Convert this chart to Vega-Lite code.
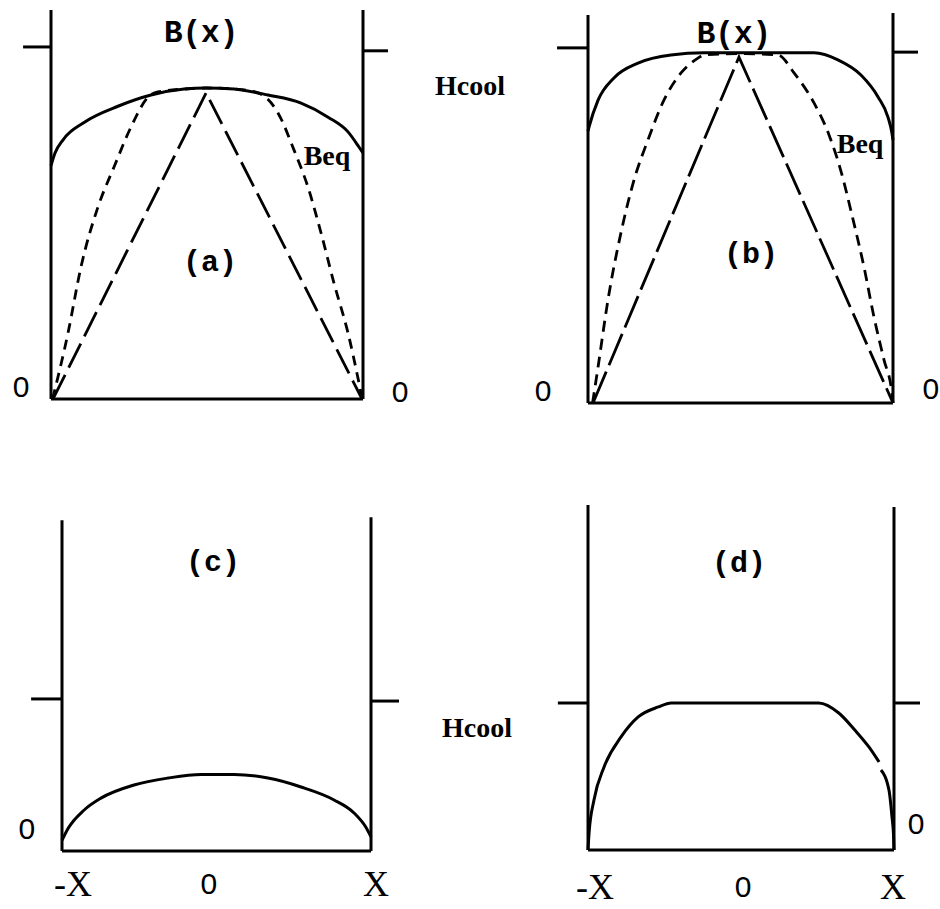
{
  "$schema": "https://vega.github.io/schema/vega-lite/v6.json",
  "background": "white",
  "padding": {"left": 12, "top": 5, "right": 0, "bottom": 0},
  "autosize": {"type": "pad"},
  "bounds": "flush",
  "align": "each",
  "columns": 2,
  "spacing": {"row": 95, "column": 210},
  "config": {
    "view": {"stroke": null, "fill": "white"},
    "line": {"color": "#000"},
    "rule": {"color": "#000"},
    "text": {"color": "#000"}
  },
  "datasets": {
    "a_frame": [
      {"x": -1, "y": 0, "x2": -1, "y2": 1.108},
      {"x": 1, "y": 0, "x2": 1, "y2": 1.108},
      {"x": -1, "y": 0, "x2": 1, "y2": 0},
      {"x": -1.179, "y": 1.003, "x2": -1, "y2": 1.003},
      {"x": 1, "y": 0.992, "x2": 1.16, "y2": 0.992}
    ],
    "b_frame": [
      {"x": -1, "y": 0, "x2": -1, "y2": 1.099},
      {"x": 1, "y": 0, "x2": 1, "y2": 1.105},
      {"x": -1, "y": 0, "x2": 1, "y2": 0},
      {"x": -1.203, "y": 1.006, "x2": -1, "y2": 1.006},
      {"x": 1, "y": 0.994, "x2": 1.164, "y2": 0.994}
    ],
    "c_frame": [
      {"x": -1, "y": 0, "x2": -1, "y2": 2.19},
      {"x": 1, "y": 0, "x2": 1, "y2": 2.21},
      {"x": -1, "y": 0, "x2": 1, "y2": 0},
      {"x": -1.2, "y": 1.007, "x2": -1, "y2": 1.007},
      {"x": 1, "y": 0.993, "x2": 1.181, "y2": 0.993}
    ],
    "d_frame": [
      {"x": -1, "y": 0, "x2": -1, "y2": 2.347},
      {"x": 1, "y": 0, "x2": 1, "y2": 2.333},
      {"x": -1, "y": 0, "x2": 1, "y2": 0},
      {"x": -1.197, "y": 1, "x2": -1, "y2": 1},
      {"x": 1, "y": 1, "x2": 1.17, "y2": 1}
    ],
    "a_curves": [
      {"s": "B", "x": -1, "y": 0.665},
      {"s": "B", "x": -0.975, "y": 0.7},
      {"s": "B", "x": -0.92, "y": 0.74},
      {"s": "B", "x": -0.788, "y": 0.788},
      {"s": "B", "x": -0.571, "y": 0.834},
      {"s": "B", "x": -0.359, "y": 0.866},
      {"s": "B", "x": -0.147, "y": 0.883},
      {"s": "B", "x": -0.006, "y": 0.886},
      {"s": "B", "x": 0.173, "y": 0.883},
      {"s": "B", "x": 0.391, "y": 0.866},
      {"s": "B", "x": 0.603, "y": 0.843},
      {"s": "B", "x": 0.776, "y": 0.803},
      {"s": "B", "x": 0.904, "y": 0.761},
      {"s": "B", "x": 0.974, "y": 0.718},
      {"s": "B", "x": 1, "y": 0.701},
      {"s": "Beq", "x": -0.99, "y": 0},
      {"s": "Beq", "x": -0.891, "y": 0.188},
      {"s": "Beq", "x": -0.808, "y": 0.376},
      {"s": "Beq", "x": -0.699, "y": 0.547},
      {"s": "Beq", "x": -0.596, "y": 0.661},
      {"s": "Beq", "x": -0.487, "y": 0.775},
      {"s": "Beq", "x": -0.378, "y": 0.86},
      {"s": "Beq", "x": -0.314, "y": 0.875},
      {"s": "Beq", "x": -0.147, "y": 0.883},
      {"s": "Beq", "x": 0, "y": 0.886},
      {"s": "Beq", "x": 0.173, "y": 0.883},
      {"s": "Beq", "x": 0.327, "y": 0.872},
      {"s": "Beq", "x": 0.455, "y": 0.815},
      {"s": "Beq", "x": 0.558, "y": 0.709},
      {"s": "Beq", "x": 0.647, "y": 0.604},
      {"s": "Beq", "x": 0.731, "y": 0.473},
      {"s": "Beq", "x": 0.814, "y": 0.33},
      {"s": "Beq", "x": 0.904, "y": 0.188},
      {"s": "Beq", "x": 0.974, "y": 0.046},
      {"s": "Beq", "x": 0.995, "y": 0},
      {"s": "tri", "x": -0.987, "y": 0},
      {"s": "tri", "x": -0.006, "y": 0.872},
      {"s": "tri", "x": 0.994, "y": 0}
    ],
    "b_curves": [
      {"s": "B", "x": -1, "y": 0.77},
      {"s": "B", "x": -0.993, "y": 0.782},
      {"s": "B", "x": -0.934, "y": 0.858},
      {"s": "B", "x": -0.83, "y": 0.921},
      {"s": "B", "x": -0.672, "y": 0.963},
      {"s": "B", "x": -0.456, "y": 0.986},
      {"s": "B", "x": -0.239, "y": 0.992},
      {"s": "B", "x": 0.482, "y": 0.992},
      {"s": "B", "x": 0.639, "y": 0.972},
      {"s": "B", "x": 0.79, "y": 0.929},
      {"s": "B", "x": 0.902, "y": 0.867},
      {"s": "B", "x": 0.967, "y": 0.81},
      {"s": "B", "x": 0.993, "y": 0.765},
      {"s": "B", "x": 1, "y": 0.745},
      {"s": "Beq", "x": -0.97, "y": 0},
      {"s": "Beq", "x": -0.934, "y": 0.102},
      {"s": "Beq", "x": -0.869, "y": 0.292},
      {"s": "Beq", "x": -0.784, "y": 0.482},
      {"s": "Beq", "x": -0.698, "y": 0.632},
      {"s": "Beq", "x": -0.607, "y": 0.745},
      {"s": "Beq", "x": -0.502, "y": 0.858},
      {"s": "Beq", "x": -0.39, "y": 0.935},
      {"s": "Beq", "x": -0.279, "y": 0.977},
      {"s": "Beq", "x": -0.239, "y": 0.986},
      {"s": "Beq", "x": 0, "y": 0.99},
      {"s": "Beq", "x": 0.246, "y": 0.986},
      {"s": "Beq", "x": 0.351, "y": 0.935},
      {"s": "Beq", "x": 0.482, "y": 0.85},
      {"s": "Beq", "x": 0.58, "y": 0.76},
      {"s": "Beq", "x": 0.66, "y": 0.655},
      {"s": "Beq", "x": 0.735, "y": 0.525},
      {"s": "Beq", "x": 0.81, "y": 0.385},
      {"s": "Beq", "x": 0.875, "y": 0.244},
      {"s": "Beq", "x": 0.941, "y": 0.122},
      {"s": "Beq", "x": 0.993, "y": 0.028},
      {"s": "Beq", "x": 1, "y": 0},
      {"s": "tri", "x": -0.967, "y": 0},
      {"s": "tri", "x": -0.01, "y": 0.98},
      {"s": "tri", "x": 1, "y": 0}
    ],
    "c_curves": [
      {"s": "B", "g": 1, "x": -1, "y": 0.07},
      {"s": "B", "g": 1, "x": -0.96, "y": 0.15},
      {"s": "B", "g": 1, "x": -0.858, "y": 0.27},
      {"s": "B", "g": 1, "x": -0.748, "y": 0.35},
      {"s": "B", "g": 1, "x": -0.534, "y": 0.437},
      {"s": "B", "g": 1, "x": -0.314, "y": 0.483},
      {"s": "B", "g": 1, "x": -0.1, "y": 0.507},
      {"s": "B", "g": 1, "x": 0.113, "y": 0.507},
      {"s": "B", "g": 1, "x": 0.333, "y": 0.483},
      {"s": "B", "g": 1, "x": 0.547, "y": 0.424},
      {"s": "B", "g": 1, "x": 0.761, "y": 0.338},
      {"s": "B", "g": 1, "x": 0.89, "y": 0.252},
      {"s": "B", "g": 1, "x": 0.965, "y": 0.16},
      {"s": "B", "g": 1, "x": 1, "y": 0.093}
    ],
    "d_curves": [
      {"s": "B", "g": 1, "x": -1, "y": 0},
      {"s": "B", "g": 1, "x": -0.993, "y": 0.116},
      {"s": "B", "g": 1, "x": -0.961, "y": 0.34},
      {"s": "B", "g": 1, "x": -0.895, "y": 0.565},
      {"s": "B", "g": 1, "x": -0.784, "y": 0.769},
      {"s": "B", "g": 1, "x": -0.672, "y": 0.905},
      {"s": "B", "g": 1, "x": -0.541, "y": 0.973},
      {"s": "B", "g": 1, "x": -0.456, "y": 1},
      {"s": "B", "g": 1, "x": 0.508, "y": 1},
      {"s": "B", "g": 1, "x": 0.639, "y": 0.932},
      {"s": "B", "g": 1, "x": 0.744, "y": 0.816},
      {"s": "B", "g": 1, "x": 0.836, "y": 0.701},
      {"s": "B", "g": 1, "x": 0.902, "y": 0.599},
      {"s": "B", "g": 2, "x": 0.915, "y": 0.544},
      {"s": "B", "g": 2, "x": 0.967, "y": 0.408},
      {"s": "B", "g": 2, "x": 0.987, "y": 0.224},
      {"s": "B", "g": 2, "x": 0.997, "y": 0.1},
      {"s": "B", "g": 2, "x": 1, "y": 0}
    ],
    "a_labels": [
      {"role": "title", "t": "B(x)", "x": -0.038, "y": 1.043},
      {"role": "name", "t": "Hcool", "x": 1.686, "y": 0.889},
      {"role": "name", "t": "Beq", "x": 0.769, "y": 0.689},
      {"role": "panel", "t": "(a)", "x": 0.019, "y": 0.39},
      {"role": "zero", "t": "0", "x": -1.192, "y": 0.031},
      {"role": "zero", "t": "0", "x": 1.237, "y": 0.017}
    ],
    "b_labels": [
      {"role": "title", "t": "B(x)", "x": -0.043, "y": 1.045},
      {"role": "name", "t": "Beq", "x": 0.784, "y": 0.731},
      {"role": "panel", "t": "(b)", "x": 0.069, "y": 0.422},
      {"role": "zero", "t": "0", "x": -1.295, "y": 0.031},
      {"role": "zero", "t": "0", "x": 1.249, "y": 0.037}
    ],
    "c_labels": [
      {"role": "panel", "t": "(c)", "x": -0.023, "y": 1.914},
      {"role": "zero", "t": "0", "x": -1.227, "y": 0.139},
      {"role": "xend", "t": "-X", "x": -0.929, "y": -0.225},
      {"role": "zero", "t": "0", "x": -0.049, "y": -0.225},
      {"role": "xend", "t": "X", "x": 1.032, "y": -0.225}
    ],
    "d_labels": [
      {"role": "panel", "t": "(d)", "x": -0.013, "y": 1.952},
      {"role": "name", "t": "Hcool", "x": -1.725, "y": 0.823},
      {"role": "zero", "t": "0", "x": 1.144, "y": 0.17},
      {"role": "xend", "t": "-X", "x": -0.954, "y": -0.259},
      {"role": "zero", "t": "0", "x": 0.013, "y": -0.259},
      {"role": "xend", "t": "X", "x": 0.993, "y": -0.259}
    ]
  },
  "concat": [
    {
      "width": 330, "height": 400,
      "encoding": {
        "x": {"field": "x", "type": "quantitative", "scale": {"domain": [-1.0321, 1.0833], "nice": false, "zero": false}, "axis": null},
        "y": {"field": "y", "type": "quantitative", "scale": {"domain": [-0.0171, 1.1225], "nice": false, "zero": false}, "axis": null}
      },
      "layer": [
        {"data": {"name": "a_frame"}, "mark": {"type": "rule", "strokeWidth": 3}, "encoding": {"x2": {"field": "x2"}, "y2": {"field": "y2"}}},
        {"data": {"name": "a_curves"}, "transform": [{"filter": "datum.s == 'B'"}], "mark": {"type": "line", "strokeWidth": 3, "interpolate": "monotone"}, "encoding": {}},
        {"data": {"name": "a_curves"}, "transform": [{"filter": "datum.s == 'Beq'"}], "mark": {"type": "line", "strokeWidth": 2.8, "interpolate": "monotone", "strokeDash": [10, 7]}, "encoding": {}},
        {"data": {"name": "a_curves"}, "transform": [{"filter": "datum.s == 'tri'"}], "mark": {"type": "line", "strokeWidth": 2.8, "strokeDash": [27, 8]}, "encoding": {}},
        {"data": {"name": "a_labels"}, "transform": [{"filter": "datum.role == 'title'"}], "mark": {"type": "text", "font": "Liberation Mono", "fontSize": 31, "fontWeight": "bold"}, "encoding": {"text": {"field": "t"}}},
        {"data": {"name": "a_labels"}, "transform": [{"filter": "datum.role == 'panel'"}], "mark": {"type": "text", "font": "Liberation Mono", "fontSize": 30, "fontWeight": "bold"}, "encoding": {"text": {"field": "t"}}},
        {"data": {"name": "a_labels"}, "transform": [{"filter": "datum.role == 'name'"}], "mark": {"type": "text", "font": "Liberation Serif", "fontSize": 28, "fontWeight": "bold"}, "encoding": {"text": {"field": "t"}}},
        {"data": {"name": "a_labels"}, "transform": [{"filter": "datum.role == 'zero'"}], "mark": {"type": "text", "font": "Liberation Sans", "fontSize": 30}, "encoding": {"text": {"field": "t"}}}
      ]
    },
    {
      "width": 310, "height": 400,
      "encoding": {
        "x": {"field": "x", "type": "quantitative", "scale": {"domain": [-1.0131, 1.0197], "nice": false, "zero": false}, "axis": null},
        "y": {"field": "y", "type": "quantitative", "scale": {"domain": [-0.0057, 1.1275], "nice": false, "zero": false}, "axis": null}
      },
      "layer": [
        {"data": {"name": "b_frame"}, "mark": {"type": "rule", "strokeWidth": 3}, "encoding": {"x2": {"field": "x2"}, "y2": {"field": "y2"}}},
        {"data": {"name": "b_curves"}, "transform": [{"filter": "datum.s == 'B'"}], "mark": {"type": "line", "strokeWidth": 3, "interpolate": "monotone"}, "encoding": {}},
        {"data": {"name": "b_curves"}, "transform": [{"filter": "datum.s == 'Beq'"}], "mark": {"type": "line", "strokeWidth": 2.8, "interpolate": "monotone", "strokeDash": [11, 7]}, "encoding": {}},
        {"data": {"name": "b_curves"}, "transform": [{"filter": "datum.s == 'tri'"}], "mark": {"type": "line", "strokeWidth": 2.8, "strokeDash": [34, 7]}, "encoding": {}},
        {"data": {"name": "b_labels"}, "transform": [{"filter": "datum.role == 'title'"}], "mark": {"type": "text", "font": "Liberation Mono", "fontSize": 31, "fontWeight": "bold"}, "encoding": {"text": {"field": "t"}}},
        {"data": {"name": "b_labels"}, "transform": [{"filter": "datum.role == 'panel'"}], "mark": {"type": "text", "font": "Liberation Mono", "fontSize": 30, "fontWeight": "bold"}, "encoding": {"text": {"field": "t"}}},
        {"data": {"name": "b_labels"}, "transform": [{"filter": "datum.role == 'name'"}], "mark": {"type": "text", "font": "Liberation Serif", "fontSize": 28, "fontWeight": "bold"}, "encoding": {"text": {"field": "t"}}},
        {"data": {"name": "b_labels"}, "transform": [{"filter": "datum.role == 'zero'"}], "mark": {"type": "text", "font": "Liberation Sans", "fontSize": 30}, "encoding": {"text": {"field": "t"}}}
      ]
    },
    {
      "width": 330, "height": 355,
      "encoding": {
        "x": {"field": "x", "type": "quantitative", "scale": {"domain": [-1.1036, 1.0323], "nice": false, "zero": false}, "axis": null},
        "y": {"field": "y", "type": "quantitative", "scale": {"domain": [-0.0265, 2.3245], "nice": false, "zero": false}, "axis": null}
      },
      "layer": [
        {"data": {"name": "c_frame"}, "mark": {"type": "rule", "strokeWidth": 3}, "encoding": {"x2": {"field": "x2"}, "y2": {"field": "y2"}}},
        {"data": {"name": "c_curves"}, "mark": {"type": "line", "strokeWidth": 3, "interpolate": "monotone"}, "encoding": {"detail": {"field": "g"}}},
        {"data": {"name": "c_labels"}, "transform": [{"filter": "datum.role == 'panel'"}], "mark": {"type": "text", "font": "Liberation Mono", "fontSize": 30, "fontWeight": "bold"}, "encoding": {"text": {"field": "t"}}},
        {"data": {"name": "c_labels"}, "transform": [{"filter": "datum.role == 'zero'"}], "mark": {"type": "text", "font": "Liberation Sans", "fontSize": 30}, "encoding": {"text": {"field": "t"}}},
        {"data": {"name": "c_labels"}, "transform": [{"filter": "datum.role == 'xend'"}], "mark": {"type": "text", "font": "Liberation Serif", "fontSize": 36}, "encoding": {"text": {"field": "t"}}}
      ]
    },
    {
      "width": 310, "height": 355,
      "encoding": {
        "x": {"field": "x", "type": "quantitative", "scale": {"domain": [-1.0131, 1.0131], "nice": false, "zero": false}, "axis": null},
        "y": {"field": "y", "type": "quantitative", "scale": {"domain": [-0.034, 2.381], "nice": false, "zero": false}, "axis": null}
      },
      "layer": [
        {"data": {"name": "d_frame"}, "mark": {"type": "rule", "strokeWidth": 3}, "encoding": {"x2": {"field": "x2"}, "y2": {"field": "y2"}}},
        {"data": {"name": "d_curves"}, "mark": {"type": "line", "strokeWidth": 3, "interpolate": "monotone"}, "encoding": {"detail": {"field": "g"}}},
        {"data": {"name": "d_labels"}, "transform": [{"filter": "datum.role == 'panel'"}], "mark": {"type": "text", "font": "Liberation Mono", "fontSize": 30, "fontWeight": "bold"}, "encoding": {"text": {"field": "t"}}},
        {"data": {"name": "d_labels"}, "transform": [{"filter": "datum.role == 'name'"}], "mark": {"type": "text", "font": "Liberation Serif", "fontSize": 28, "fontWeight": "bold"}, "encoding": {"text": {"field": "t"}}},
        {"data": {"name": "d_labels"}, "transform": [{"filter": "datum.role == 'zero'"}], "mark": {"type": "text", "font": "Liberation Sans", "fontSize": 30}, "encoding": {"text": {"field": "t"}}},
        {"data": {"name": "d_labels"}, "transform": [{"filter": "datum.role == 'xend'"}], "mark": {"type": "text", "font": "Liberation Serif", "fontSize": 36}, "encoding": {"text": {"field": "t"}}}
      ]
    }
  ]
}
